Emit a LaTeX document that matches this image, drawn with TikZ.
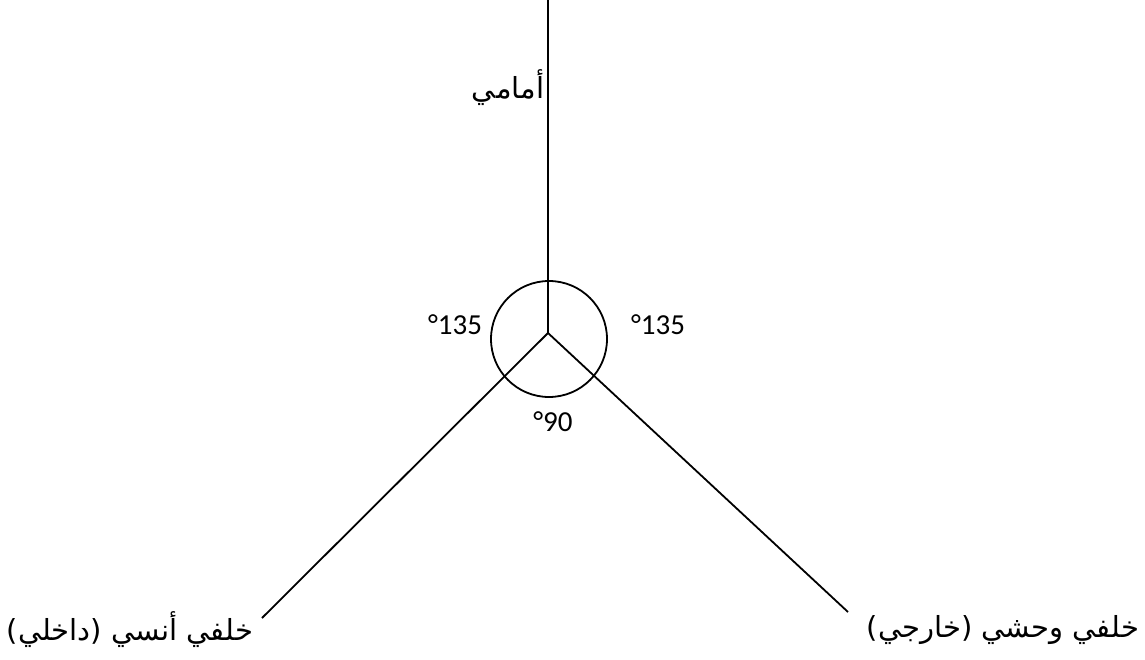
\documentclass[tikz,border=0pt]{standalone}
\usepackage{fontspec}
\setmainfont{Carlito}
\newfontfamily\arabicfont[Script=Arabic]{DejaVu Sans}
\TeXXeTstate=1
\begin{document}
\begin{tikzpicture}[x=1pt,y=-1pt,
  axis/.style={line width=1.8pt},
  num/.style={font=\fontsize{29}{33}\selectfont, inner sep=0pt},
  lab/.style={font=\arabicfont\fontsize{29}{34}\selectfont, inner sep=0pt}]
\useasboundingbox (0,0) rectangle (1145,660);
\coordinate (c) at (548,333);
\coordinate (top) at (548,0);
\coordinate (l) at (262,618);
\coordinate (r) at (848,612);
\node[draw, circle, line width=1.8pt, minimum size=116pt, inner sep=0pt] (circ) at (549,339) {};
\draw[axis] (top) -- (c);
\draw[axis] (c) -- (l);
\draw[axis] (c) -- (r);
\node[num] (al) at (455,325) {°135};
\node[num] (ar) at (658,325) {°135};
\node[num] (ab) at (553,422) {°90};
\node[lab] (front) at (508,88) {\beginR أمامي\endR};
\node[lab] (bl) at (130,630) {\beginR خلفي أنسي (داخلي)\endR};
\node[lab] (br) at (1003,630) {\beginR خلفي وحشي (خارجي)\endR};
\end{tikzpicture}
\end{document}
